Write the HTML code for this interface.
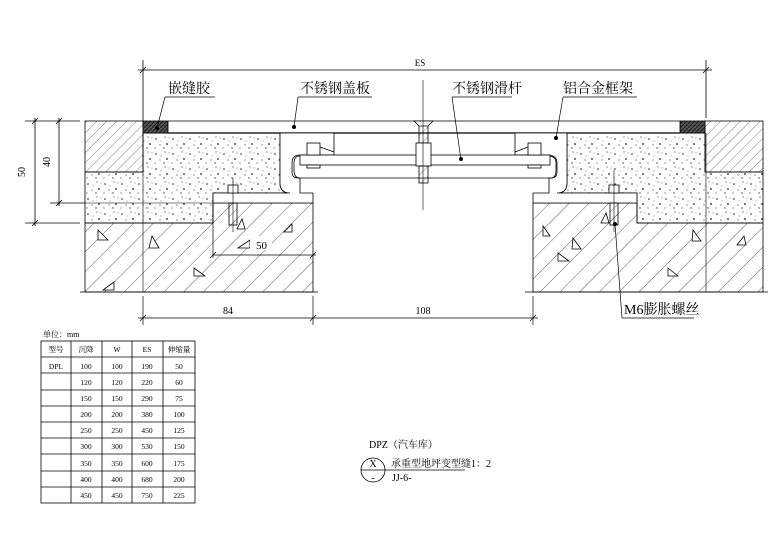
<!DOCTYPE html>
<html><head><meta charset="utf-8"><style>
html,body{margin:0;padding:0;background:#fff;}
svg{display:block}
text{font-family:"Liberation Serif","Noto Serif CJK SC","Noto Sans CJK SC",serif;fill:#000}
</style></head><body>
<svg width="780" height="551" viewBox="0 0 780 551" xmlns="http://www.w3.org/2000/svg">
<defs>
<pattern id="hatch" width="14" height="14" patternUnits="userSpaceOnUse" patternTransform="rotate(45)">
<line x1="0" y1="0" x2="0" y2="14" stroke="#333" stroke-width="0.8"/>
</pattern>
<pattern id="hatch2" width="7" height="7" patternUnits="userSpaceOnUse" patternTransform="rotate(45)">
<line x1="0" y1="0" x2="0" y2="7" stroke="#444" stroke-width="0.7"/>
</pattern>
<pattern id="dots" width="17" height="15" patternUnits="userSpaceOnUse">
<circle cx="3" cy="4" r="0.8" fill="#222"/><circle cx="12" cy="2" r="0.6" fill="#444"/>
<circle cx="14" cy="9" r="0.9" fill="#222"/><circle cx="7" cy="10" r="0.6" fill="#444"/>
<circle cx="11" cy="13" r="0.7" fill="#333"/><circle cx="2" cy="13" r="0.6" fill="#555"/>
<circle cx="16" cy="3" r="0.5" fill="#555"/><circle cx="8" cy="6" r="0.5" fill="#666"/>
</pattern>
<pattern id="seal" width="4" height="4" patternUnits="userSpaceOnUse">
<rect width="4" height="4" fill="#555"/><path d="M0 4L4 0" stroke="#222" stroke-width="1.2"/>
</pattern>
</defs>
<g stroke="#000" stroke-width="0.8" fill="none">
<line x1="138" y1="70" x2="712" y2="70"/>
<line x1="143" y1="60" x2="143" y2="125"/>
<line x1="706" y1="60" x2="706" y2="118"/>
<line x1="140" y1="73" x2="146" y2="67"/><line x1="703" y1="73" x2="709" y2="67"/>
<line x1="25" y1="121" x2="80" y2="121"/><line x1="50" y1="203" x2="85" y2="203"/><line x1="25" y1="223" x2="80" y2="223"/>
<line x1="35" y1="118" x2="35" y2="226"/><line x1="59" y1="118" x2="59" y2="206"/>
<line x1="32" y1="124" x2="38" y2="118"/><line x1="32" y1="226" x2="38" y2="220"/>
<line x1="56" y1="124" x2="62" y2="118"/><line x1="56" y1="206" x2="62" y2="200"/>
</g>
<text x="420" y="66" font-size="9" text-anchor="middle">ES</text>
<text transform="translate(25,172) rotate(-90)" font-size="10" text-anchor="middle">50</text>
<text transform="translate(50,162) rotate(-90)" font-size="10" text-anchor="middle">40</text>

<rect x="85" y="121" width="58" height="51" fill="url(#hatch2)" stroke="#000" stroke-width="0.8"/>
<path d="M85 172H143V133H280V183Q280 193 290 193H213V223H85Z" fill="url(#dots)" stroke="#000" stroke-width="0.8"/>
<line x1="85" y1="203" x2="213" y2="203" stroke="#000" stroke-width="0.6"/>
<path d="M85 223H213V203H313V292H85Z" fill="url(#hatch)" stroke="#000" stroke-width="0.8"/>
<rect x="705" y="121" width="58" height="51" fill="url(#hatch2)" stroke="#000" stroke-width="0.8"/>
<path d="M763 172H705V133H567V183Q567 193 557 193H637V223H763Z" fill="url(#dots)" stroke="#000" stroke-width="0.8"/>
<path d="M763 223H637V203H533V292H763Z" fill="url(#hatch)" stroke="#000" stroke-width="0.8"/>
<g stroke="#000" stroke-width="0.8" fill="none">
<line x1="80" y1="292" x2="318" y2="292"/><line x1="525" y1="292" x2="768" y2="292"/>
<line x1="143" y1="133" x2="143" y2="292" stroke-width="0.6"/>
<line x1="706" y1="133" x2="706" y2="292" stroke-width="0.6"/>
</g>
<g stroke="#000" stroke-width="0.8" fill="#fff">
<path d="M98 230l10 10h-10z"/><path d="M152 236l7 12h-10z"/><path d="M250 240l-12 8h12z"/><path d="M194 268l11 8h-11z"/><path d="M292 224l-8 8h8z"/><path d="M114 282l-11 8h11z"/><path d="M242 219l-5 10h8z"/>
<path d="M543 226l7 10h-7z"/><path d="M573 238l8 11h-9z"/><path d="M693 230l8 11h-9z"/><path d="M744 236l-7 9h9z"/><path d="M668 268l10 8h-10z"/><path d="M606 213l-5 10h8z"/><path d="M558 253l11 8h-11z"/>
</g>
<rect x="143" y="121" width="25" height="12" fill="url(#seal)" stroke="#000" stroke-width="0.8"/>
<rect x="680" y="121" width="25" height="12" fill="url(#seal)" stroke="#000" stroke-width="0.8"/>
<path d="M168 121H680V133H168Z" fill="#fff" stroke="#000" stroke-width="0.8"/>
<line x1="168" y1="133" x2="680" y2="133" stroke="#000" stroke-width="1.3"/>
<g stroke="#000" stroke-width="0.8" fill="#fff">
<path d="M280 133H334V155H300Q292 155 292 163V172Q292 178 298 178H300V193H313V203H213V193H290Q280 193 280 183Z"/>
<path d="M567 133H515V155H547Q557 155 557 163V172Q557 178 551 178H549V193H533V203H637V193H557Q567 193 567 183Z"/>
<path d="M298 178H551Q556 178 556 170V163Q556 156 548 156" fill="none"/>
<path d="M300 156Q294 156 294 163V170Q294 178 300 178" fill="none"/>
<rect x="300" y="155" width="250" height="10"/>
<rect x="307" y="143" width="13" height="12"/><rect x="528" y="143" width="13" height="12"/>
<rect x="307" y="165" width="13" height="3"/><rect x="528" y="165" width="13" height="3"/>
<path d="M320 147L334 152M528 147L515 152" fill="none"/>
<rect x="419" y="124" width="9" height="19" fill="url(#hatch2)"/>
<path d="M414 121H433L428 126H419Z"/>
<rect x="416" y="143" width="15" height="23"/>
<rect x="419" y="166" width="9" height="17" fill="url(#hatch2)"/>
<rect x="228" y="185" width="10" height="8"/><rect x="229" y="203" width="8" height="22" fill="url(#hatch2)"/>
<rect x="609" y="185" width="10" height="8"/><rect x="610" y="203" width="8" height="22" fill="url(#hatch2)"/>
</g>
<g stroke="#000" stroke-width="0.6">
<line x1="423" y1="80" x2="423" y2="210"/>
<line x1="233" y1="178" x2="233" y2="232"/><line x1="614" y1="170" x2="614" y2="232"/>
</g>
<g stroke="#000" stroke-width="0.7">
<line x1="213" y1="255" x2="316" y2="255"/><line x1="213" y1="200" x2="213" y2="258"/>
<line x1="210" y1="258" x2="216" y2="252"/><line x1="310" y1="258" x2="316" y2="252"/>
</g>
<rect x="250" y="236" width="22" height="14" fill="#fff"/>
<text x="256" y="249" font-size="11">50</text>
<g stroke="#000" stroke-width="0.7">
<line x1="138" y1="318" x2="538" y2="318"/>
<line x1="143" y1="296" x2="143" y2="325"/><line x1="313" y1="296" x2="313" y2="325"/><line x1="533" y1="296" x2="533" y2="325"/>
<line x1="140" y1="321" x2="146" y2="315"/><line x1="310" y1="321" x2="316" y2="315"/><line x1="530" y1="321" x2="536" y2="315"/>
</g>
<text x="228" y="314" font-size="10" text-anchor="middle">84</text>
<text x="423" y="314" font-size="10" text-anchor="middle">108</text>
<g font-size="14" font-family="Liberation Sans,'Noto Sans CJK SC',sans-serif">
<text x="168" y="93">嵌缝胶</text>
<text x="300" y="93">不锈钢盖板</text>
<text x="452" y="93">不锈钢滑杆</text>
<text x="563" y="93">铝合金框架</text>
<text x="624" y="314">M6膨胀螺丝</text>
</g>
<g stroke="#000" stroke-width="0.7">
<line x1="165" y1="97" x2="215" y2="97"/><line x1="165" y1="97" x2="157" y2="128"/>
<line x1="298" y1="97" x2="372" y2="97"/><line x1="298" y1="97" x2="294" y2="127"/>
<line x1="452" y1="97" x2="512" y2="97"/><line x1="452" y1="97" x2="461" y2="160"/>
<line x1="563" y1="97" x2="637" y2="97"/><line x1="563" y1="97" x2="556" y2="138"/>
<line x1="622" y1="318" x2="694" y2="318"/><line x1="622" y1="318" x2="615" y2="224"/>
</g>
<g fill="#000"><circle cx="157" cy="128" r="2"/><circle cx="294" cy="127" r="2"/><circle cx="461" cy="159" r="2"/><circle cx="556" cy="138" r="2"/><circle cx="615" cy="224" r="2"/></g>

<text x="43" y="337" font-size="8">单位：mm</text>
<g stroke="#000" stroke-width="0.8">
<rect x="41" y="341" width="154" height="162" fill="none"/>
<line x1="71" y1="341" x2="71" y2="503"/><line x1="102" y1="341" x2="102" y2="503"/>
<line x1="132" y1="341" x2="132" y2="503"/><line x1="163" y1="341" x2="163" y2="503"/>
<line x1="41" y1="357" x2="195" y2="357"/><line x1="41" y1="373" x2="195" y2="373"/>
<line x1="41" y1="390" x2="195" y2="390"/><line x1="41" y1="406" x2="195" y2="406"/>
<line x1="41" y1="422" x2="195" y2="422"/><line x1="41" y1="438" x2="195" y2="438"/>
<line x1="41" y1="454" x2="195" y2="454"/><line x1="41" y1="471" x2="195" y2="471"/>
<line x1="41" y1="487" x2="195" y2="487"/>
</g>
<g font-size="7.5" text-anchor="middle">
<text x="56" y="352">型号</text><text x="86" y="352">沉降</text><text x="117" y="352">W</text><text x="147" y="352">ES</text><text x="179" y="352">伸缩量</text>
<text x="56" y="369">DPL</text>
<text x="86" y="369">100</text><text x="117" y="369">100</text><text x="147" y="369">190</text><text x="179" y="369">50</text>
<text x="86" y="385">120</text><text x="117" y="385">120</text><text x="147" y="385">220</text><text x="179" y="385">60</text>
<text x="86" y="401">150</text><text x="117" y="401">150</text><text x="147" y="401">290</text><text x="179" y="401">75</text>
<text x="86" y="417">200</text><text x="117" y="417">200</text><text x="147" y="417">380</text><text x="179" y="417">100</text>
<text x="86" y="433">250</text><text x="117" y="433">250</text><text x="147" y="433">450</text><text x="179" y="433">125</text>
<text x="86" y="449">300</text><text x="117" y="449">300</text><text x="147" y="449">530</text><text x="179" y="449">150</text>
<text x="86" y="466">350</text><text x="117" y="466">350</text><text x="147" y="466">600</text><text x="179" y="466">175</text>
<text x="86" y="482">400</text><text x="117" y="482">400</text><text x="147" y="482">680</text><text x="179" y="482">200</text>
<text x="86" y="498">450</text><text x="117" y="498">450</text><text x="147" y="498">750</text><text x="179" y="498">225</text>
</g>

<circle cx="373" cy="470" r="12" fill="none" stroke="#000" stroke-width="0.8"/>
<line x1="361" y1="470" x2="465" y2="470" stroke="#000" stroke-width="0.8"/>
<g font-size="10">
<text x="369" y="448">DPZ（汽车库）</text>
<text x="373" y="467" text-anchor="middle">X</text>
<text x="373" y="481" text-anchor="middle">-</text>
<text x="391" y="467">承重型地坪变型缝1：2</text>
<text x="392" y="481">JJ-6-</text>
</g>
</svg>
</body></html>
